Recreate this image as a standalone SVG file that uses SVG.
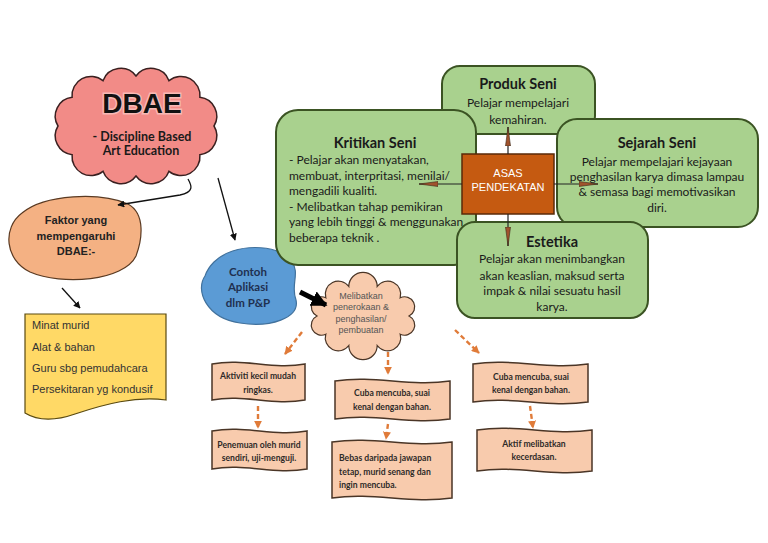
<svg xmlns="http://www.w3.org/2000/svg" width="768" height="543" viewBox="0 0 768 543">
<defs>
<style>
.green{fill:#a9d18e;stroke:#3b5323;stroke-width:2}
.gt{font-family:Lato,"Open Sans",sans-serif;font-size:12px;fill:#1a1a1a}
.gh{font-family:Lato,"Open Sans",sans-serif;font-size:14.5px;font-weight:bold;fill:#1a1a1a;text-anchor:middle}
.wave{fill:#f8cbad;stroke:#4a3526;stroke-width:1.5}
.wt{font-family:Lato,"Open Sans",sans-serif;font-size:8.6px;font-weight:bold;fill:#2e2a28;text-anchor:middle}
.wl{font-family:Lato,"Open Sans",sans-serif;font-size:8.6px;font-weight:bold;fill:#2e2a28;text-anchor:start}
.blk{stroke:#111;stroke-width:1.3;fill:none}
.dash{stroke:#e07b39;stroke-width:2.4;stroke-dasharray:5 3;fill:none}
.asa{stroke:#222;stroke-width:1.2;fill:none}
.sans{font-family:"Liberation Sans",Arial,sans-serif}
</style>
<marker id="mb" viewBox="0 0 10 10" refX="9" refY="5" markerWidth="7" markerHeight="7" markerUnits="userSpaceOnUse" orient="auto"><path d="M0,0 L10,5 L0,10 Z" fill="#111"/></marker>
<marker id="mbr" viewBox="0 0 20 6" refX="19" refY="3" markerWidth="20" markerHeight="6" markerUnits="userSpaceOnUse" orient="auto"><path d="M0,0.5 L19,3 L0,5.5 Z" fill="#a0522d" stroke="#3a2a1a" stroke-width="0.6"/></marker>
<marker id="mo" viewBox="0 0 10 10" refX="9" refY="5" markerWidth="8" markerHeight="8" markerUnits="userSpaceOnUse" orient="auto"><path d="M0,0 L10,5 L0,10 Z" fill="#e07b39"/></marker>
<marker id="mbig" viewBox="0 0 10 10" refX="9" refY="5" markerWidth="16" markerHeight="16" markerUnits="userSpaceOnUse" orient="auto"><path d="M0,0 L10,5 L0,10 Z" fill="#000"/></marker>
</defs>
<rect width="768" height="543" fill="#fff"/>

<g id="dbae">
<path d="M214,126 A19,19 0 0 1 199.9,154.7 A19,19 0 0 1 169,171.3 A19,19 0 0 1 136,176 A19,19 0 0 1 103,171.3 A19,19 0 0 1 72.1,154.7 A19,19 0 0 1 58,126 A19,19 0 0 1 72.1,97.3 A19,19 0 0 1 103,80.7 A19,19 0 0 1 136,76 A19,19 0 0 1 169,80.7 A19,19 0 0 1 199.9,97.3 A19,19 0 0 1 214,126 Z" fill="#f28b87" stroke="#3a2020" stroke-width="1.5"/>
<text x="142" y="113" text-anchor="middle" class="sans" font-size="28" font-weight="bold" fill="#111" stroke="#f7b9b5" stroke-width="3" paint-order="stroke">DBAE</text>
<text x="142" y="141" text-anchor="middle" font-family="Lato,sans-serif" font-size="12.5" font-weight="bold" fill="#1a1a1a">- Discipline Based</text>
<text x="141" y="155" text-anchor="middle" font-family="Lato,sans-serif" font-size="12.5" font-weight="bold" fill="#1a1a1a">Art Education</text>
</g>

<g id="faktor">
<path d="M22,213 C45,194 100,192 128,204 C146,214 142,240 136,256 C124,281 62,286 30,272 C5,260 2,228 22,213 Z" fill="#f4b183" stroke="#5a3a22" stroke-width="1.2"/>
<text x="76" y="224" text-anchor="middle" class="sans" font-size="11" font-weight="bold" fill="#222">Faktor yang</text>
<text x="76" y="240" text-anchor="middle" class="sans" font-size="11" font-weight="bold" fill="#222">mempengaruhi</text>
<text x="76" y="255" text-anchor="middle" class="sans" font-size="11" font-weight="bold" fill="#222">DBAE:-</text>
</g>

<g id="faktor-list">
<path d="M25,314 H166 V400 C135,396 105,404 75,414 C55,421 38,421 25,413 Z" fill="#ffd966" stroke="#5a4a10" stroke-width="1.2"/>
<text x="32" y="329" class="sans" font-size="11" fill="#333">Minat murid</text>
<text x="32" y="351" class="sans" font-size="11" fill="#333">Alat &amp; bahan</text>
<text x="32" y="372" class="sans" font-size="11" fill="#333">Guru sbg pemudahcara</text>
<text x="32" y="393" class="sans" font-size="11" fill="#333">Persekitaran yg kondusif</text>
</g>

<g id="contoh">
<path d="M214,262 C234,242 278,244 291,260 C301,273 290,285 296,300 C300,318 270,328 240,323 C206,318 195,290 205,276 C207,270 210,266 214,262 Z" fill="#5b9bd5" stroke="#41719c" stroke-width="1.2"/>
<text x="248" y="276" text-anchor="middle" font-family="Lato,sans-serif" font-size="11.5" font-weight="bold" fill="#1f3050">Contoh</text>
<text x="248" y="291" text-anchor="middle" font-family="Lato,sans-serif" font-size="11.5" font-weight="bold" fill="#1f3050">Aplikasi</text>
<text x="248" y="307" text-anchor="middle" font-family="Lato,sans-serif" font-size="11.5" font-weight="bold" fill="#1f3050">dlm P&amp;P</text>
</g>

<g id="penerokaan">
<path d="M409,316 A10,10 0 0 1 400.2,334.2 A13,13 0 0 1 377.2,345.5 A14,14 0 0 1 348.8,345.5 A13,13 0 0 1 325.8,334.2 A10,10 0 0 1 317,316 A10,10 0 0 1 325.8,297.8 A13,13 0 0 1 348.8,286.5 A14,14 0 0 1 377.2,286.5 A13,13 0 0 1 400.2,297.8 A10,10 0 0 1 409,316 Z" fill="#f8cbad" stroke="#4a3526" stroke-width="1.2"/>
<text x="361" y="299" text-anchor="middle" class="sans" font-size="9" fill="#555">Melibatkan</text>
<text x="361" y="310" text-anchor="middle" class="sans" font-size="9" fill="#555">penerokaan &amp;</text>
<text x="361" y="321.5" text-anchor="middle" class="sans" font-size="9" fill="#555">penghasilan/</text>
<text x="361" y="333" text-anchor="middle" class="sans" font-size="9" fill="#555">pembuatan</text>
</g>

<g id="produk">
<rect x="442" y="66" width="153" height="68" rx="18" class="green"/>
<text x="518" y="89" class="gh">Produk Seni</text>
<text x="518" y="107" class="gt" text-anchor="middle">Pelajar mempelajari</text>
<text x="518" y="124" class="gt" text-anchor="middle">kemahiran.</text>
</g>

<g id="kritikan">
<rect x="276" y="110" width="200" height="155" rx="22" class="green"/>
<text x="375" y="148" class="gh">Kritikan Seni</text>
<text x="289" y="164" class="gt">- Pelajar akan menyatakan,</text>
<text x="289" y="179.5" class="gt">membuat, interpritasi, menilai/</text>
<text x="289" y="195" class="gt">mengadili kualiti.</text>
<text x="289" y="210.5" class="gt">- Melibatkan tahap pemikiran</text>
<text x="289" y="226" class="gt">yang lebih tinggi &amp; menggunakan</text>
<text x="289" y="241.5" class="gt">beberapa teknik .</text>
</g>

<g id="sejarah">
<rect x="557" y="119" width="201" height="108" rx="20" class="green"/>
<text x="657" y="148" class="gh">Sejarah Seni</text>
<text x="657" y="166" class="gt" text-anchor="middle">Pelajar mempelajari kejayaan</text>
<text x="657" y="181" class="gt" text-anchor="middle">penghasilan karya dimasa lampau</text>
<text x="657" y="196" class="gt" text-anchor="middle">&amp; semasa bagi memotivasikan</text>
<text x="657" y="212" class="gt" text-anchor="middle">diri.</text>
</g>

<g id="estetika">
<rect x="457" y="222" width="191" height="96" rx="18" class="green"/>
<text x="552" y="247" class="gh">Estetika</text>
<text x="552" y="263" class="gt" text-anchor="middle">Pelajar akan menimbangkan</text>
<text x="552" y="279.5" class="gt" text-anchor="middle">akan keaslian, maksud serta</text>
<text x="552" y="295" class="gt" text-anchor="middle">impak &amp; nilai sesuatu hasil</text>
<text x="552" y="310.5" class="gt" text-anchor="middle">karya.</text>
</g>

<g id="asas">
<rect x="462" y="154" width="92" height="60" fill="#c55a11" stroke="#5a2a08" stroke-width="1.5"/>
<text x="508" y="177" text-anchor="middle" class="sans" font-size="11" fill="#fff">ASAS</text>
<text x="508" y="191" text-anchor="middle" class="sans" font-size="11" fill="#fff">PENDEKATAN</text>
</g>

<g id="box-a">
<path d="M212,364 C244.6,358 272.5,370 305,364 L305,400 C272.5,406 244.6,394 212,400 Z" class="wave"/>
<text x="258" y="379" class="wt">Aktiviti kecil mudah</text>
<text x="258" y="393" class="wt">ringkas.</text>
</g>
<g id="box-b">
<path d="M212,431 C245.3,425 273.8,437 307,431 L307,469 C273.8,475 245.3,463 212,469 Z" class="wave"/>
<text x="259" y="448" class="wt">Penemuan oleh murid</text>
<text x="259" y="461" class="wt">sendiri, uji-menguji.</text>
</g>
<g id="box-c">
<path d="M335,381 C375.3,375 409.8,387 450,381 L450,419 C409.8,425 375.3,413 335,419 Z" class="wave"/>
<text x="392" y="396" class="wt">Cuba mencuba, suai</text>
<text x="392" y="410" class="wt">kenal dengan bahan.</text>
</g>
<g id="box-d">
<path d="M332,442 C374,436 410,448 452,442 L452,498 C410,504 374,492 332,498 Z" class="wave"/>
<text x="339" y="461" class="wl">Bebas daripada jawapan</text>
<text x="339" y="475" class="wl">tetap, murid senang dan</text>
<text x="339" y="488" class="wl">ingin mencuba.</text>
</g>
<g id="box-e">
<path d="M473,364 C513.3,358 547.8,370 588,364 L588,402 C547.8,408 513.3,396 473,402 Z" class="wave"/>
<text x="531" y="380" class="wt">Cuba mencuba, suai</text>
<text x="531" y="393" class="wt">kenal dengan bahan.</text>
</g>
<g id="box-f">
<path d="M477,430 C517.3,424 551.8,436 592,430 L592,471 C551.8,477 517.3,465 477,471 Z" class="wave"/>
<text x="534" y="447" class="wt">Aktif melibatkan</text>
<text x="534" y="460" class="wt">kecerdasan.</text>
</g>

<g id="connectors">
<path d="M188,179 C192,186 194,192 180,195 L118,205" class="blk" marker-end="url(#mb)"/>
<path d="M218,178 L235,240" class="blk" marker-end="url(#mb)"/>
<path d="M62,288 L80,308" class="blk" marker-end="url(#mb)"/>
<path d="M300,292 L326,305" stroke="#000" stroke-width="5" fill="none" marker-end="url(#mbig)"/>
<path d="M508,154 L508,127" class="asa" marker-end="url(#mbr)"/>
<path d="M462,184 L419,184" class="asa" marker-end="url(#mbr)"/>
<path d="M554,184 L598,184" class="asa" marker-end="url(#mbr)"/>
<path d="M508,214 L508,246" class="asa" marker-end="url(#mbr)"/>
<path d="M302,332 L285,354" class="dash" marker-end="url(#mo)"/>
<path d="M388,352 L388,374" class="dash" marker-end="url(#mo)"/>
<path d="M455,330 L479,353" class="dash" marker-end="url(#mo)"/>
<path d="M258,406 L258,428" class="dash" marker-end="url(#mo)"/>
<path d="M388,424 L386,439" class="dash" marker-end="url(#mo)"/>
<path d="M530,406 L533,428" class="dash" marker-end="url(#mo)"/>
</g>
</svg>
